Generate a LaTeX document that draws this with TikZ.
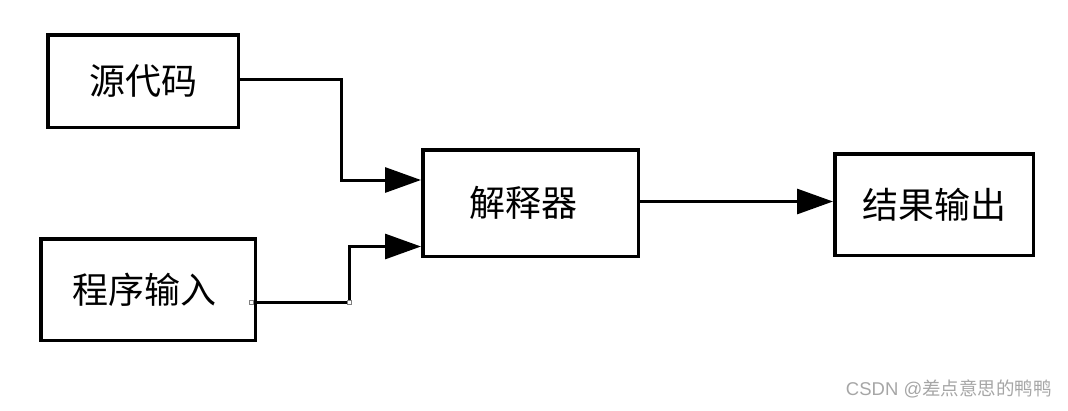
\documentclass[tikz,border=0pt]{standalone}
\usepackage{fontspec}
\newfontfamily\cjk{Noto Sans CJK SC}
\newfontfamily\lat{Liberation Sans}
\usetikzlibrary{arrows.meta}
\tikzset{
  box/.style={draw=black, line width=3.5pt, fill=white, inner sep=0pt, font=\cjk\fontsize{36}{40}\selectfont},
  conn/.style={draw=black, line width=3pt},
  bigtip/.style={-{Triangle[length=36pt,width=25pt]}},
  marker/.style={draw=gray, fill=white, line width=0.8pt, minimum size=4pt, inner sep=0pt},
}
\begin{document}
\begin{tikzpicture}[x=1pt,y=-1pt]
\useasboundingbox (0,0) rectangle (1068,410);
\node[box, minimum width=190.5pt, minimum height=92.5pt] (src) at (143,81) {\raisebox{-1pt}{源代码}};
\node[box, minimum width=214.5pt, minimum height=101.5pt] (prog) at (148,289.5) {\hspace*{-8pt}\raisebox{-1.5pt}{程序输入}};
\node[box, minimum width=215.5pt, minimum height=106.5pt] (interp) at (530.5,203) {\hspace*{-15pt}\raisebox{-3pt}{解释器}};
\node[box, minimum width=198.5pt, minimum height=101.5pt] (out) at (934,204.5) {\raisebox{-1.5pt}{结果输出}};

\coordinate (k1) at (341.5,79);
\coordinate (k2) at (349,302.5);
\draw[conn, bigtip] ([yshift=2pt]src.east) -- (k1) |- ([yshift=23pt]interp.west);
\draw[conn, bigtip] ([yshift=-13pt]prog.east) -- (k2) |- ([yshift=-43.5pt]interp.west);
\draw[conn, bigtip] ([yshift=1.5pt]interp.east) -- ([yshift=3pt]out.west);

\node[marker] (m1) at (251.5,302.5) {};
\node[marker] (m2) at (349,302.5) {};

\node[text=black!35, font=\cjk\fontsize{18.5}{21}\selectfont, anchor=east, inner sep=0pt] (wm) at (1052,389) {{\lat CSDN @}差点意思的鸭鸭};
\end{tikzpicture}
\end{document}
